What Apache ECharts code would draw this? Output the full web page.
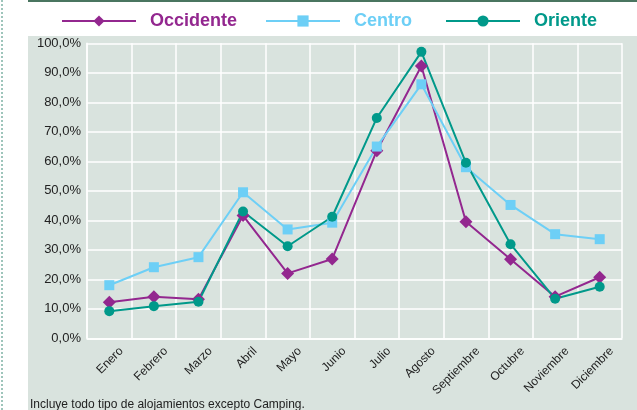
<!DOCTYPE html>
<html><head><meta charset="utf-8">
<script src="https://cdn.jsdelivr.net/npm/echarts@6/dist/echarts.min.js"></script>
<style>html,body{margin:0;padding:0;background:#fff}#c{width:637px;height:410px}</style>
</head><body><div id="c"></div>
<script>
const categories = ['Enero','Febrero','Marzo','Abril','Mayo','Junio','Julio','Agosto','Septiembre','Octubre','Noviembre','Diciembre'];
const occidente = [12.2,14.1,13.2,41.6,22.0,26.9,63.6,92.3,39.5,26.8,14.1,20.7];
const centro    = [18.0,24.1,27.5,49.5,36.9,39.2,65.0,86.1,58.0,45.2,35.3,33.6];
const oriente   = [9.2,10.9,12.4,43.0,31.2,41.2,74.7,97.1,59.5,31.9,13.4,17.5];
const yTicks = [0,10,20,30,40,50,60,70,80,90,100];
const footnote = 'Incluye todo tipo de alojamientos excepto Camping.';

const C_OCC = '#93278f', C_CEN = '#6dcff6', C_ORI = '#00998a';
const FONT = 'Liberation Sans, Arial, sans-serif';
const chart = echarts.init(document.getElementById('c'), null, {renderer:'canvas'});
const mk = (name, data, color, symbol, size) => ({
  name, type:'line', data, symbol, symbolSize:size,
  lineStyle:{color, width:2}, itemStyle:{color},
  emphasis:{disabled:true}, z:3
});
const lg = (name, left, color) => ({
  top:7, left, itemWidth:74, itemHeight:14, data:[name],
  textStyle:{fontSize:18, fontWeight:'bold', color, fontFamily:FONT, padding:[0,0,0,9]}
});
chart.setOption({
  animation:false,
  textStyle:{fontFamily:FONT},
  graphic:[
    {type:'rect', shape:{x:28,y:36,width:609,height:374}, style:{fill:'#d9e3de'}, z:-10, silent:true},
    {type:'rect', shape:{x:28,y:0,width:609,height:2}, style:{fill:'#4a7560'}, z:-10, silent:true},
    {type:'line', shape:{x1:2,y1:0,x2:2,y2:410}, style:{stroke:'#7fb3a5', lineWidth:1.5, lineDash:[2,2]}, z:-10, silent:true},
    {type:'text', left:30, top:399, style:{text:footnote, fill:'#222', font:'12px '+FONT}, z:10}
  ],
  legend:[lg('Occidente',56,C_OCC), lg('Centro',260,C_CEN), lg('Oriente',440,C_ORI)],
  grid:{left:87, right:15, top:43.3, bottom:71.7, containLabel:false},
  xAxis:{
    type:'category', data:categories, boundaryGap:true,
    axisLine:{show:true, lineStyle:{color:'#fff', width:1.5}},
    axisTick:{show:false},
    splitLine:{show:true, interval:0, lineStyle:{color:'#fff', width:1.5}},
    axisLabel:{rotate:45, interval:0, fontSize:12, color:'#222', margin:23, padding:[0,-17,0,0]}
  },
  yAxis:{
    type:'value', min:0, max:100, interval:10,
    axisLine:{show:true, lineStyle:{color:'#fff', width:1.5}},
    axisTick:{show:false},
    splitLine:{show:true, lineStyle:{color:'#fff', width:1.5}},
    axisLabel:{fontSize:13, color:'#222', margin:6, formatter:v=> yTicks.includes(v) ? v.toFixed(1).replace('.',',')+'%' : ''}
  },
  series:[
    mk('Occidente', occidente, C_OCC, 'diamond', 13),
    mk('Centro', centro, C_CEN, 'rect', 10),
    mk('Oriente', oriente, C_ORI, 'circle', 10)
  ]
});
</script></body></html>
